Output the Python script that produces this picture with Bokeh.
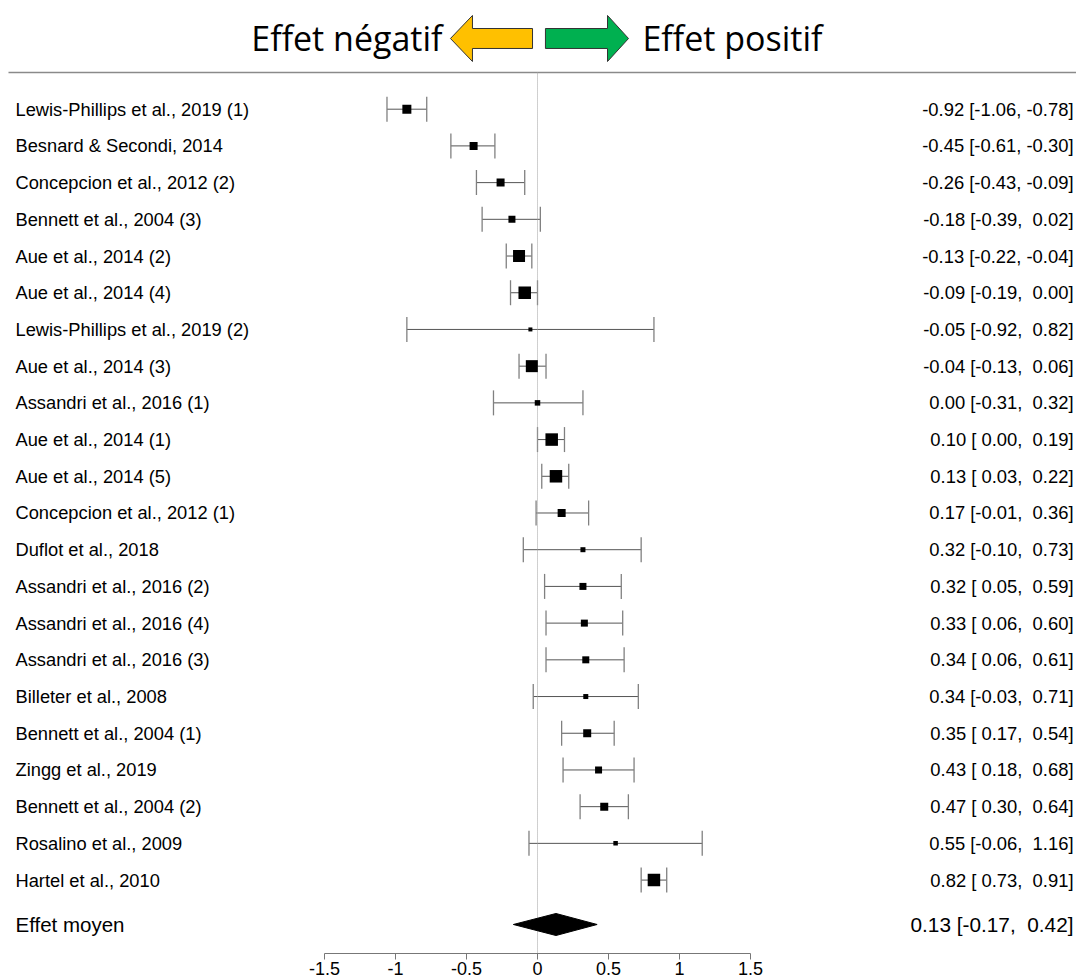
from bokeh.plotting import figure
from bokeh.models import (ColumnDataSource, Range1d, LinearAxis, FixedTicker,
                          CustomJSTickFormatter, Whisker, TeeHead)
from bokeh.core.properties import value
from bokeh.embed import file_html
from bokeh.resources import INLINE

# ---------------- data ----------------
studies = ["Lewis-Phillips et al., 2019 (1)", "Besnard & Secondi, 2014",
           "Concepcion et al., 2012 (2)", "Bennett et al., 2004 (3)",
           "Aue et al., 2014 (2)", "Aue et al., 2014 (4)",
           "Lewis-Phillips et al., 2019 (2)", "Aue et al., 2014 (3)",
           "Assandri et al., 2016 (1)", "Aue et al., 2014 (1)",
           "Aue et al., 2014 (5)", "Concepcion et al., 2012 (1)",
           "Duflot et al., 2018", "Assandri et al., 2016 (2)",
           "Assandri et al., 2016 (4)", "Assandri et al., 2016 (3)",
           "Billeter et al., 2008", "Bennett et al., 2004 (1)",
           "Zingg et al., 2019", "Bennett et al., 2004 (2)",
           "Rosalino et al., 2009", "Hartel et al., 2010"]
estimate = [-0.92, -0.45, -0.26, -0.18, -0.13, -0.09, -0.05, -0.04, 0.00, 0.10, 0.13,
            0.17, 0.32, 0.32, 0.33, 0.34, 0.34, 0.35, 0.43, 0.47, 0.55, 0.82]
ci_low = [-1.06, -0.61, -0.43, -0.39, -0.22, -0.19, -0.92, -0.13, -0.31, 0.00, 0.03,
          -0.01, -0.10, 0.05, 0.06, 0.06, -0.03, 0.17, 0.18, 0.30, -0.06, 0.73]
ci_high = [-0.78, -0.30, -0.09, 0.02, -0.04, 0.00, 0.82, 0.06, 0.32, 0.19, 0.22,
           0.36, 0.73, 0.59, 0.60, 0.61, 0.71, 0.54, 0.68, 0.64, 1.16, 0.91]
# marker side length (pixels), proportional to study weight
weight_px = [9, 8, 8, 7, 12, 12.5, 4, 12, 5.5, 12.5, 12.5, 8, 5, 7, 7, 7, 5, 8, 7, 8, 4.5, 12.5]

summary_label = "Effet moyen"
summary_est, summary_low, summary_high = 0.13, -0.17, 0.42

ticks = [-1.5, -1, -0.5, 0, 0.5, 1, 1.5]
header_left = "Effet négatif"
header_right = "Effet positif"

# ---------------- layout constants ----------------
PX_PER_UNIT = 142.0
X0_PX = 537.0          # pixel offset of x=0 from frame left
FRAME_W = 1076
X_START = -X0_PX / PX_PER_UNIT
X_END = (FRAME_W - X0_PX) / PX_PER_UNIT
AXIS_ROW = 24.0
Y_TOP = -1.961
SUMMARY_ROW = 23.21
RULE_X0 = X_START + 8 / PX_PER_UNIT
NB = "\u00a0"
FONT = "Liberation Sans"


def fmt(v):
    return ("%5.2f" % v).replace(" ", NB)


def ci_text(e, lo, hi):
    return "%.2f [%s, %s]" % (e, fmt(lo), fmt(hi))


rows = list(range(1, len(studies) + 1))
src = ColumnDataSource(dict(
    y=rows, est=estimate, lo=ci_low, hi=ci_high, size=weight_px, name=studies,
    txt=[ci_text(e, l, h) for e, l, h in zip(estimate, ci_low, ci_high)],
    xl=[X_START] * len(rows), xr=[X_END] * len(rows)))

p = figure(width=FRAME_W, height=977, output_backend="svg", toolbar_location=None,
           x_range=Range1d(X_START, X_END), y_range=Range1d(AXIS_ROW, Y_TOP),
           x_axis_location=None, y_axis_location=None,
           min_border_left=0, min_border_right=0, min_border_top=0, min_border_bottom=0)
p.outline_line_color = None
p.grid.visible = False
p.background_fill_color = "white"

# top rule
p.segment(x0=[RULE_X0], y0=[0], x1=[X_END], y1=[0], line_color="#8a8a8a", line_width=1.5)
# zero reference line
p.segment(x0=[0], y0=[0], x1=[0], y1=[AXIS_ROW], line_color="#a0a0a0",
          line_dash="1 1", line_width=1)

# confidence intervals
wh = Whisker(source=src, base="y", lower="lo", upper="hi", dimension="width",
             line_color="#555555", line_width=1, level="underlay",
             lower_head=TeeHead(size=25, line_color="#808080", line_width=1.3),
             upper_head=TeeHead(size=25, line_color="#808080", line_width=1.3))
p.add_layout(wh)

# point estimates
p.scatter(x="est", y="y", size="size", marker="square", source=src,
          fill_color="black", line_color="black", line_width=0)

# summary diamond
dh = 0.30
p.patch(x=[summary_low, summary_est, summary_high, summary_est],
        y=[SUMMARY_ROW, SUMMARY_ROW - dh, SUMMARY_ROW, SUMMARY_ROW + dh],
        fill_color="black", line_color="black")

# study labels
p.text(x="xl", y="y", text="name", source=src, x_offset=15, text_baseline="middle",
       text_align="left", text_font=value(FONT), text_font_size="18.3px",
       text_color="black")
p.text(x="xr", y="y", text="txt", source=src, x_offset=-3, text_baseline="middle",
       text_align="right", text_font=value(FONT), text_font_size="18.4px",
       text_color="black")
p.text(x=[X_START], y=[SUMMARY_ROW], text=[summary_label], x_offset=15,
       text_baseline="middle", text_align="left", text_font=value(FONT),
       text_font_size="20.5px", text_color="black")
p.text(x=[X_END], y=[SUMMARY_ROW], text=[ci_text(summary_est, summary_low, summary_high)],
       x_offset=-3, text_baseline="middle", text_align="right",
       text_font=value(FONT), text_font_size="20.8px", text_color="black")

# header with arrows
hy = -0.926
sh, hh = 0.272, 0.627
ya = [hy, hy - hh, hy - sh, hy - sh, hy + sh, hy + sh, hy + hh]
yl_tip, yl_base, yl_tail = -0.613, -0.458, -0.035
p.patch(x=[yl_tip, yl_base, yl_base, yl_tail, yl_tail, yl_base, yl_base], y=ya,
        fill_color="#FFC000", line_color="#333333", line_width=1)
g_tip, g_base, g_tail = 0.641, 0.493, 0.056
p.patch(x=[g_tip, g_base, g_base, g_tail, g_tail, g_base, g_base], y=ya,
        fill_color="#00B050", line_color="#333333", line_width=1)
p.text(x=[-0.669], y=[hy], text=[header_left], text_align="right",
       text_baseline="middle", text_font=value("Open Sans"), text_font_size="34px",
       text_color="black")
p.text(x=[0.739], y=[hy], text=[header_right], text_align="left",
       text_baseline="middle", text_font=value("Open Sans"), text_font_size="34px",
       text_color="black")

# x axis
ax = LinearAxis(ticker=FixedTicker(ticks=ticks), bounds=(ticks[0], ticks[-1]),
                formatter=CustomJSTickFormatter(code="return tick.toString();"))
ax.axis_line_color = "#777777"
ax.major_tick_line_color = "#777777"
ax.major_tick_out = 6
ax.major_tick_in = 0
ax.minor_tick_out = 0
ax.minor_tick_in = 0
ax.major_label_standoff = 2
ax.major_label_text_font = FONT
ax.major_label_text_font_size = "18px"
ax.major_label_text_color = "black"
p.add_layout(ax, "below")

open("out.html", "w").write(file_html(p, INLINE))
